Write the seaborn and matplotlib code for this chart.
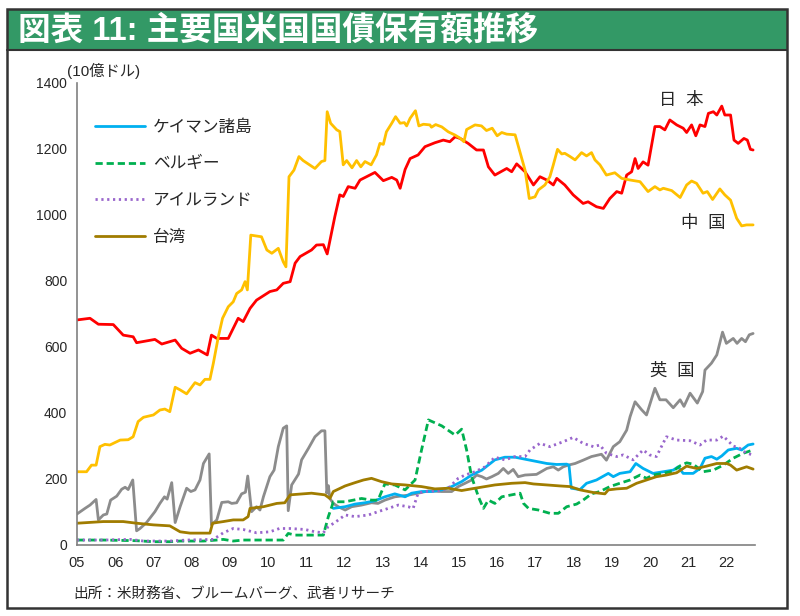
import matplotlib
matplotlib.use("Agg")
import matplotlib.pyplot as plt
import pandas as pd
import seaborn as sns
from matplotlib.patches import Rectangle

# data: (year, 10億ドル)
japan = [(2005.0, 682), (2005.34, 687), (2005.56, 669), (2005.95, 668), (2006.21, 636), (2006.47, 631),
         (2006.56, 613), (2007.04, 623), (2007.22, 609), (2007.57, 621), (2007.74, 596), (2007.96, 581),
         (2008.18, 591), (2008.41, 576), (2008.52, 636), (2008.66, 626), (2008.96, 626), (2009.22, 687),
         (2009.35, 677), (2009.53, 717), (2009.7, 742), (2010.05, 768), (2010.23, 773), (2010.4, 793),
         (2010.58, 798), (2010.71, 854), (2010.84, 874), (2011.14, 894), (2011.27, 909), (2011.45, 910),
         (2011.55, 882), (2011.75, 995), (2011.88, 1061), (2011.97, 1056), (2012.1, 1086), (2012.28, 1081),
         (2012.41, 1106), (2012.58, 1116), (2012.8, 1129), (2013.02, 1104), (2013.24, 1114), (2013.37, 1106),
         (2013.46, 1081), (2013.59, 1138), (2013.72, 1171), (2013.93, 1182), (2014.11, 1207), (2014.37, 1219),
         (2014.59, 1227), (2014.76, 1222), (2014.9, 1237), (2015.03, 1232), (2015.24, 1217), (2015.46, 1197),
         (2015.64, 1197), (2015.77, 1146), (2015.94, 1121), (2016.25, 1141), (2016.38, 1131), (2016.51, 1155),
         (2016.73, 1131), (2016.95, 1091), (2017.12, 1116), (2017.3, 1106), (2017.47, 1091), (2017.56, 1111),
         (2017.77, 1091), (2017.99, 1061), (2018.25, 1035), (2018.38, 1040), (2018.6, 1025), (2018.78, 1020),
         (2018.95, 1050), (2019.13, 1071), (2019.26, 1066), (2019.39, 1121), (2019.52, 1131), (2019.61, 1171),
         (2019.69, 1141), (2019.82, 1161), (2019.95, 1151), (2020.13, 1268), (2020.26, 1268), (2020.39, 1258),
         (2020.52, 1288), (2020.7, 1273), (2020.87, 1263), (2020.96, 1250), (2021.09, 1273), (2021.2, 1240),
         (2021.31, 1273), (2021.44, 1268), (2021.53, 1308), (2021.66, 1313), (2021.75, 1303), (2021.88, 1330),
         (2021.96, 1303), (2022.11, 1303), (2022.2, 1227), (2022.31, 1217), (2022.46, 1232), (2022.55, 1227),
         (2022.63, 1199), (2022.7, 1197)]

china = [(2005.0, 222), (2005.25, 222), (2005.38, 242), (2005.5, 242), (2005.6, 298), (2005.73, 305),
         (2005.86, 303), (2006.13, 318), (2006.34, 319), (2006.47, 328), (2006.6, 374), (2006.74, 387),
         (2007.0, 394), (2007.17, 409), (2007.3, 412), (2007.43, 404), (2007.57, 478), (2007.7, 470),
         (2007.87, 458), (2008.09, 492), (2008.22, 485), (2008.35, 502), (2008.48, 502), (2008.57, 551),
         (2008.7, 631), (2008.81, 687), (2008.96, 722), (2009.09, 737), (2009.18, 762), (2009.31, 773),
         (2009.4, 798), (2009.46, 773), (2009.55, 939), (2009.83, 934), (2009.97, 894), (2010.1, 884),
         (2010.27, 899), (2010.4, 858), (2010.47, 843), (2010.55, 1116), (2010.68, 1136), (2010.81, 1177),
         (2010.92, 1165), (2011.23, 1141), (2011.4, 1162), (2011.49, 1165), (2011.55, 1313), (2011.64, 1278),
         (2011.8, 1258), (2011.88, 1253), (2011.97, 1152), (2012.06, 1165), (2012.2, 1143), (2012.32, 1165),
         (2012.43, 1146), (2012.54, 1162), (2012.7, 1152), (2012.84, 1182), (2012.93, 1217), (2013.02, 1214),
         (2013.1, 1252), (2013.24, 1278), (2013.34, 1298), (2013.46, 1278), (2013.57, 1280), (2013.63, 1270),
         (2013.72, 1293), (2013.86, 1316), (2013.95, 1270), (2014.07, 1275), (2014.24, 1273), (2014.28, 1266),
         (2014.39, 1274), (2014.55, 1267), (2014.72, 1252), (2014.9, 1242), (2015.04, 1232), (2015.13, 1222),
         (2015.2, 1259), (2015.42, 1273), (2015.59, 1270), (2015.72, 1256), (2015.87, 1263), (2016.0, 1240),
         (2016.12, 1250), (2016.25, 1245), (2016.47, 1243), (2016.57, 1202), (2016.73, 1136), (2016.84, 1050),
         (2016.99, 1055), (2017.08, 1076), (2017.25, 1091), (2017.38, 1116), (2017.47, 1152), (2017.58, 1199),
         (2017.69, 1185), (2017.77, 1187), (2017.91, 1177), (2018.04, 1167), (2018.21, 1189), (2018.34, 1179),
         (2018.47, 1189), (2018.56, 1167), (2018.69, 1152), (2018.86, 1121), (2019.08, 1128), (2019.26, 1111),
         (2019.48, 1106), (2019.74, 1101), (2019.95, 1071), (2020.13, 1086), (2020.26, 1076), (2020.35, 1081),
         (2020.57, 1074), (2020.79, 1053), (2020.96, 1091), (2021.09, 1103), (2021.22, 1096), (2021.39, 1066),
         (2021.5, 1071), (2021.64, 1047), (2021.83, 1079), (2021.96, 1061), (2022.11, 1045), (2022.27, 990),
         (2022.4, 967), (2022.53, 970), (2022.7, 970)]

uk = [(2005.0, 94), (2005.21, 111), (2005.34, 121), (2005.5, 138), (2005.56, 76), (2005.69, 91), (2005.78, 94),
      (2005.88, 136), (2006.04, 148), (2006.17, 169), (2006.26, 175), (2006.34, 168), (2006.46, 197),
      (2006.56, 43), (2006.65, 50), (2006.82, 68), (2007.04, 101), (2007.17, 126), (2007.29, 146),
      (2007.36, 139), (2007.48, 189), (2007.57, 68), (2007.7, 116), (2007.87, 172), (2007.98, 162),
      (2008.09, 167), (2008.22, 197), (2008.31, 247), (2008.46, 276), (2008.52, 61), (2008.66, 76),
      (2008.79, 129), (2008.96, 131), (2009.05, 126), (2009.18, 128), (2009.31, 155), (2009.41, 160),
      (2009.47, 209), (2009.57, 101), (2009.7, 116), (2009.79, 106), (2009.88, 146), (2010.05, 207),
      (2010.16, 227), (2010.27, 298), (2010.4, 354), (2010.49, 361), (2010.53, 104), (2010.62, 182),
      (2010.8, 215), (2010.88, 258), (2011.06, 293), (2011.23, 328), (2011.4, 346), (2011.49, 346),
      (2011.54, 157), (2011.58, 180), (2011.62, 141), (2011.71, 126), (2011.84, 116), (2012.02, 106),
      (2012.19, 116), (2012.45, 121), (2012.71, 128), (2012.88, 126), (2013.06, 136), (2013.32, 146),
      (2013.67, 151), (2013.93, 157), (2014.2, 164), (2014.55, 162), (2014.81, 162), (2014.98, 177),
      (2015.16, 187), (2015.33, 197), (2015.46, 212), (2015.6, 207), (2015.72, 200), (2015.86, 207),
      (2016.03, 217), (2016.16, 232), (2016.29, 217), (2016.42, 229), (2016.55, 207), (2016.73, 212),
      (2017.03, 214), (2017.3, 232), (2017.47, 237), (2017.6, 227), (2017.73, 237), (2017.86, 242),
      (2018.04, 247), (2018.25, 257), (2018.47, 268), (2018.73, 275), (2018.86, 257), (2019.04, 298),
      (2019.21, 313), (2019.39, 348), (2019.48, 389), (2019.61, 434), (2019.78, 410), (2019.91, 394),
      (2020.13, 475), (2020.26, 440), (2020.42, 440), (2020.61, 416), (2020.79, 440), (2020.89, 420),
      (2021.05, 460), (2021.24, 430), (2021.38, 465), (2021.44, 530), (2021.61, 551), (2021.75, 576),
      (2021.9, 645), (2022.0, 611), (2022.18, 626), (2022.28, 611), (2022.4, 626), (2022.5, 616),
      (2022.6, 637), (2022.7, 641)]

cayman = [(2011.71, 111), (2012.02, 116), (2012.28, 124), (2012.54, 128), (2012.8, 134), (2013.06, 146),
          (2013.32, 155), (2013.59, 146), (2013.76, 157), (2014.02, 162), (2014.28, 162), (2014.55, 167),
          (2014.81, 177), (2015.07, 192), (2015.33, 212), (2015.6, 227), (2015.94, 258), (2016.2, 266),
          (2016.47, 266), (2016.73, 260), (2016.95, 255), (2017.3, 247), (2017.56, 244), (2017.82, 245),
          (2017.88, 242), (2017.94, 172), (2018.17, 168), (2018.34, 187), (2018.6, 197), (2018.91, 217),
          (2019.04, 207), (2019.21, 217), (2019.48, 222), (2019.63, 247), (2019.82, 232), (2020.08, 217),
          (2020.35, 222), (2020.61, 227), (2020.74, 237), (2020.87, 217), (2021.13, 217), (2021.31, 232),
          (2021.44, 263), (2021.61, 268), (2021.75, 260), (2021.88, 270), (2022.05, 288), (2022.27, 293),
          (2022.4, 288), (2022.57, 303), (2022.7, 306)]

belgium = [(2005.0, 15), (2005.69, 15), (2006.56, 13), (2007.0, 10), (2007.43, 10), (2007.7, 12), (2008.31, 12),
           (2008.66, 15), (2008.83, 17), (2009.09, 12), (2009.35, 15), (2010.4, 15), (2010.53, 35),
           (2010.71, 30), (2011.45, 30), (2011.58, 86), (2011.67, 116), (2011.71, 131), (2012.02, 131),
           (2012.45, 141), (2012.71, 136), (2012.88, 136), (2013.06, 185), (2013.32, 182), (2013.59, 167),
           (2013.85, 197), (2014.02, 288), (2014.2, 379), (2014.55, 361), (2014.9, 333), (2015.07, 351),
           (2015.2, 288), (2015.33, 207), (2015.51, 146), (2015.64, 111), (2015.77, 136), (2015.94, 126),
           (2016.12, 146), (2016.38, 152), (2016.6, 157), (2016.69, 126), (2016.82, 111), (2017.08, 106),
           (2017.38, 96), (2017.6, 96), (2017.82, 116), (2018.08, 124), (2018.25, 136), (2018.47, 155),
           (2018.69, 162), (2018.95, 177), (2019.21, 187), (2019.48, 197), (2019.74, 212), (2019.91, 202),
           (2020.08, 212), (2020.35, 217), (2020.61, 224), (2020.79, 240), (2020.96, 249), (2021.13, 245),
           (2021.39, 222), (2021.66, 227), (2021.92, 242), (2022.18, 263), (2022.44, 278), (2022.7, 288)]

ireland = [(2005.0, 15), (2005.69, 15), (2006.39, 17), (2006.74, 12), (2007.43, 12), (2007.87, 15),
           (2008.57, 17), (2008.83, 37), (2009.09, 50), (2009.35, 47), (2009.7, 37), (2010.05, 40),
           (2010.3, 50), (2010.58, 50), (2010.97, 47), (2011.23, 40), (2011.45, 37), (2011.58, 56),
           (2011.75, 68), (2012.02, 91), (2012.28, 86), (2012.63, 91), (2012.88, 101), (2013.15, 111),
           (2013.41, 121), (2013.67, 116), (2013.8, 111), (2013.93, 157), (2014.11, 162), (2014.46, 164),
           (2014.72, 172), (2014.98, 202), (2015.16, 212), (2015.42, 222), (2015.68, 237), (2015.94, 266),
           (2016.2, 258), (2016.47, 268), (2016.73, 268), (2016.86, 288), (2017.12, 308), (2017.38, 298),
           (2017.73, 313), (2017.99, 326), (2018.25, 308), (2018.52, 298), (2018.69, 303), (2018.86, 278),
           (2019.13, 268), (2019.3, 273), (2019.56, 258), (2019.82, 288), (2019.99, 273), (2020.17, 268),
           (2020.43, 328), (2020.7, 318), (2021.05, 316), (2021.31, 303), (2021.48, 318), (2021.75, 318),
           (2021.92, 330), (2022.18, 300), (2022.35, 293), (2022.53, 278), (2022.7, 273)]

taiwan = [(2005.0, 66), (2005.69, 71), (2006.21, 71), (2006.56, 66), (2007.0, 61), (2007.43, 58), (2007.7, 40),
          (2007.96, 36), (2008.48, 36), (2008.55, 66), (2008.83, 71), (2009.09, 76), (2009.35, 76),
          (2009.48, 86), (2009.53, 111), (2009.88, 116), (2010.23, 126), (2010.44, 128), (2010.58, 152),
          (2011.14, 157), (2011.49, 152), (2011.62, 141), (2011.71, 162), (2012.02, 179), (2012.28, 189),
          (2012.5, 197), (2012.71, 202), (2012.97, 192), (2013.24, 185), (2013.59, 182), (2014.02, 177),
          (2014.37, 170), (2014.72, 172), (2015.07, 165), (2015.42, 172), (2015.94, 182), (2016.38, 187),
          (2016.73, 189), (2016.95, 185), (2017.3, 182), (2017.64, 179), (2017.91, 177), (2018.17, 167),
          (2018.52, 159), (2018.82, 155), (2018.91, 167), (2019.13, 170), (2019.39, 172), (2019.65, 187),
          (2019.91, 197), (2020.17, 207), (2020.43, 212), (2020.7, 219), (2020.96, 239), (2021.22, 232),
          (2021.48, 239), (2021.75, 247), (2022.01, 247), (2022.11, 242), (2022.27, 227), (2022.4, 232),
          (2022.53, 237), (2022.7, 230)]

names = ["日本", "中国", "英国", "ケイマン諸島", "ベルギー", "アイルランド", "台湾"]
series = [japan, china, uk, cayman, belgium, ireland, taiwan]
legend_names = ["ケイマン諸島", "ベルギー", "アイルランド", "台湾"]
years = list(range(2005, 2023))
year_labels = ["%02d" % (y % 100) for y in years]

rows = []
for name, pts in zip(names, series):
    for yr, val in pts:
        rows.append({"year": yr, "value": val, "country": name})
df = pd.DataFrame(rows)

palette = {"日本": "#FF0000", "中国": "#FFC000", "英国": "#8C8C8C", "ケイマン諸島": "#00B0F0",
           "ベルギー": "#00B050", "アイルランド": "#9966CC", "台湾": "#A07C00"}
dashes = {"日本": "", "中国": "", "英国": "", "ケイマン諸島": "",
          "ベルギー": (2.6, 1.4), "アイルランド": (0.8, 1.3), "台湾": ""}

sns.set_style("white")
plt.rcParams['font.family'] = ['Liberation Sans', 'Noto Sans CJK JP']

fig = plt.figure(figsize=(8, 6.16), dpi=100)

# frame + title bar
fig.patches.append(Rectangle((7 / 800, 1 - 50 / 616), 780 / 800, 41 / 616, transform=fig.transFigure,
                             facecolor="#339966", edgecolor="none", zorder=0))
fig.patches.append(Rectangle((7 / 800, 1 - 608 / 616), 780 / 800, 599 / 616, transform=fig.transFigure,
                             facecolor="none", edgecolor="#333333", linewidth=1.8, zorder=5))
fig.lines.append(plt.Line2D([7 / 800, 787 / 800], [1 - 50 / 616] * 2, transform=fig.transFigure,
                            color="#333333", linewidth=1.5))
fig.text(18 / 800, 1 - 31 / 616, "図表 11: 主要国米国国債保有額推移", color="white", fontsize=23.5,
         fontweight="bold", va="center", ha="left")

ax = fig.add_axes([77 / 800, 71 / 616, 678 / 800, 462 / 616])
sns.lineplot(data=df, x="year", y="value", hue="country", style="country", palette=palette,
             dashes=dashes, estimator=None, sort=False, linewidth=2, ax=ax)

handles, labels = ax.get_legend_handles_labels()
keep = [(h, l) for h, l in zip(handles, labels) if l in legend_names]
ax.legend([h for h, l in keep], [l for h, l in keep], loc="upper left",
          bbox_to_anchor=(95 / 800, 1 - 119 / 616), bbox_transform=fig.transFigure,
          frameon=False, fontsize=12, handlelength=3.0, handletextpad=0.5,
          labelspacing=1.3, borderpad=0, borderaxespad=0)

ax.set_xlim(2005, 2022.75)
ax.set_ylim(0, 1400)
ax.set_xticks(years)
ax.set_xticklabels(year_labels)
ax.set_yticks(range(0, 1401, 200))
ax.set_xlabel("")
ax.set_ylabel("")
ax.tick_params(axis="x", labelsize=10.5, length=5, color="#808080", direction="out", pad=3)
ax.tick_params(axis="y", labelsize=10, length=5, color="#808080", direction="out", pad=2)
sns.despine(ax=ax)
for s in ["left", "bottom"]:
    ax.spines[s].set_color("#808080")
    ax.spines[s].set_linewidth(1.2)

ax.text(2020.81, 1350, "日  本", fontsize=12.5, ha="center", va="center")
ax.text(2021.39, 975, "中  国", fontsize=12.5, ha="center", va="center")
ax.text(2020.58, 527, "英  国", fontsize=12.5, ha="center", va="center")

fig.text(67 / 800, 1 - 71 / 616, "(10億ドル)", fontsize=11, ha="left", va="center")
fig.text(73 / 800, 1 - 594 / 616, "出所：米財務省、ブルームバーグ、武者リサーチ", fontsize=10.5,
         ha="left", va="center")

fig.savefig("out.png", dpi=100)
